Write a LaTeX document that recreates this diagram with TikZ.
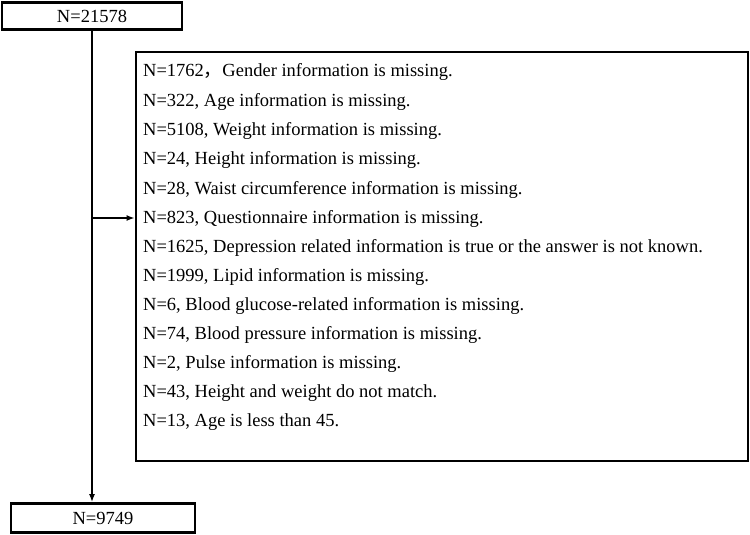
\documentclass[tikz,border=0pt]{standalone}
\usepackage{fontspec}
\setmainfont{Liberation Serif}
\newfontfamily\cjk{Noto Sans CJK SC}
\usetikzlibrary{
arrows.meta,
positioning,
calc
}

\begin{document}
\begin{tikzpicture}[x=1pt, y=-1pt, every node/.style={font=\fontsize{18.5}{22}\selectfont},
    countbox/.style={draw, line width=2.8pt, inner sep=0pt},
    flowline/.style={line width=2.2pt, -{Latex[length=8pt, width=6pt]}}]
        \useasboundingbox (0,0) rectangle (750,535);

        \node[countbox, minimum width=180pt, minimum height=27pt] (total) at (92,16) {N=21578};
        \node[countbox, minimum width=184pt, minimum height=29pt] (final) at (103,518) {N=9749};
        \node[countbox, minimum width=612pt, minimum height=409pt] (excl) at (442,256.5) {};

        \foreach \y/\reason in {
            72/{N=1762{\cjk ，}Gender information is missing.},
            102/{N=322, Age information is missing.},
            131/{N=5108, Weight information is missing.},
            160/{N=24, Height information is missing.},
            190/{N=28, Waist circumference information is missing.},
            219/{N=823, Questionnaire information is missing.},
            248/{N=1625, Depression related information is true or the answer is not known.},
            277/{N=1999, Lipid information is missing.},
            306/{N=6, Blood glucose-related information is missing.},
            335/{N=74, Blood pressure information is missing.},
            364/{N=2, Pulse information is missing.},
            393/{N=43, Height and weight do not match.},
            422/{N=13, Age is less than 45.}
        }{
            \node[anchor=west, inner sep=0pt] at (143,\y) {\reason};
        }

        \coordinate (branch) at (92,218);
        \draw[flowline] (total.south) -- (total.south |- final.north);
        \draw[flowline] (branch) -- (branch -| excl.west);
    \end{tikzpicture}
\end{document}
